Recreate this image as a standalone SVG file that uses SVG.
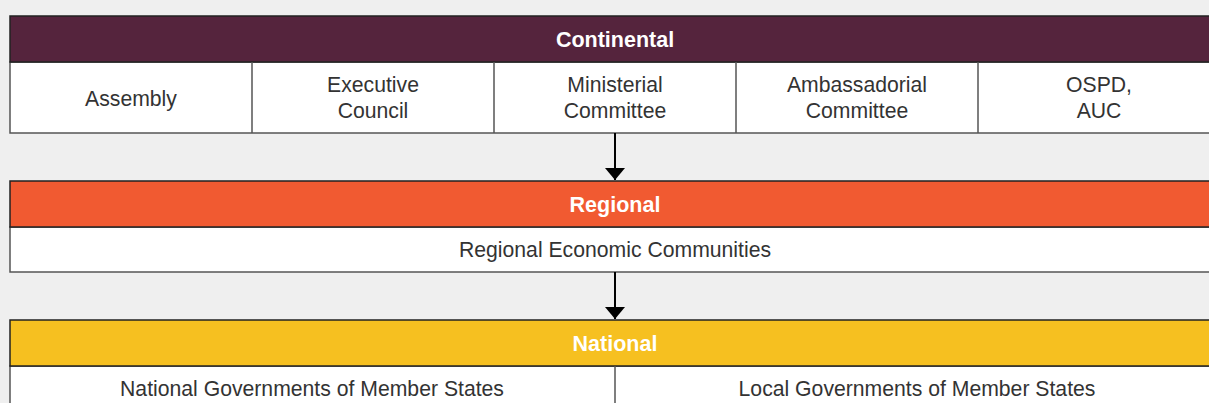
<svg xmlns="http://www.w3.org/2000/svg" width="1209" height="403" viewBox="0 0 1209 403">
<defs>
<style>
.hd{stroke:#222;stroke-width:1.5}
.row{fill:#fff;stroke:#555;stroke-width:1.5}
.ht{font-family:"Liberation Sans",Arial,sans-serif;font-weight:bold;font-size:21.5px;fill:#fff;text-anchor:middle}
.t{font-family:"Liberation Sans",Arial,sans-serif;font-size:21.2px;fill:#333;text-anchor:middle}
.div{stroke:#555;stroke-width:1.5}
.conn{stroke:#000;stroke-width:2;fill:none}
</style>
<marker id="ah" markerWidth="12" markerHeight="20" refX="12" refY="10" orient="auto" markerUnits="userSpaceOnUse">
<path d="M0,0 L12,10 L0,20 Z" fill="#000"/>
</marker>
</defs>
<rect width="1209" height="403" fill="#efefef"/>
<g id="continental">
<rect class="row" x="10" y="62" width="1210" height="71"/>
<rect class="hd" x="10" y="16" width="1210" height="46" fill="#55243d"/>
<text class="ht" x="615" y="47">Continental</text>
<line class="div" x1="252" y1="62" x2="252" y2="133"/>
<line class="div" x1="494" y1="62" x2="494" y2="133"/>
<line class="div" x1="736" y1="62" x2="736" y2="133"/>
<line class="div" x1="978" y1="62" x2="978" y2="133"/>
</g>
<g id="assembly"><text class="t" x="131" y="106">Assembly</text></g>
<g id="executive-council"><text class="t" x="373" y="92">Executive</text><text class="t" x="373" y="118">Council</text></g>
<g id="ministerial-committee"><text class="t" x="615" y="92">Ministerial</text><text class="t" x="615" y="118">Committee</text></g>
<g id="ambassadorial-committee"><text class="t" x="857" y="92">Ambassadorial</text><text class="t" x="857" y="118">Committee</text></g>
<g id="ospd-auc"><text class="t" x="1099" y="92">OSPD,</text><text class="t" x="1099" y="118">AUC</text></g>
<g id="regional">
<rect class="row" x="10" y="227" width="1210" height="45"/>
<rect class="hd" x="10" y="181" width="1210" height="46" fill="#f15a31"/>
<text class="ht" x="615" y="212">Regional</text>
</g>
<g id="recs"><text class="t" x="615" y="257">Regional Economic Communities</text></g>
<g id="national">
<rect class="row" x="10" y="366" width="1210" height="50"/>
<rect class="hd" x="10" y="320" width="1210" height="46" fill="#f6c020"/>
<text class="ht" x="615" y="351">National</text>
<line class="div" x1="615" y1="366" x2="615" y2="403"/>
</g>
<g id="national-governments"><text class="t" x="312" y="396">National Governments of Member States</text></g>
<g id="local-governments"><text class="t" x="917" y="396">Local Governments of Member States</text></g>
<g id="connectors">
<line class="conn" x1="615" y1="133" x2="615" y2="180" marker-end="url(#ah)"/>
<line class="conn" x1="615" y1="272" x2="615" y2="319" marker-end="url(#ah)"/>
</g>
</svg>
